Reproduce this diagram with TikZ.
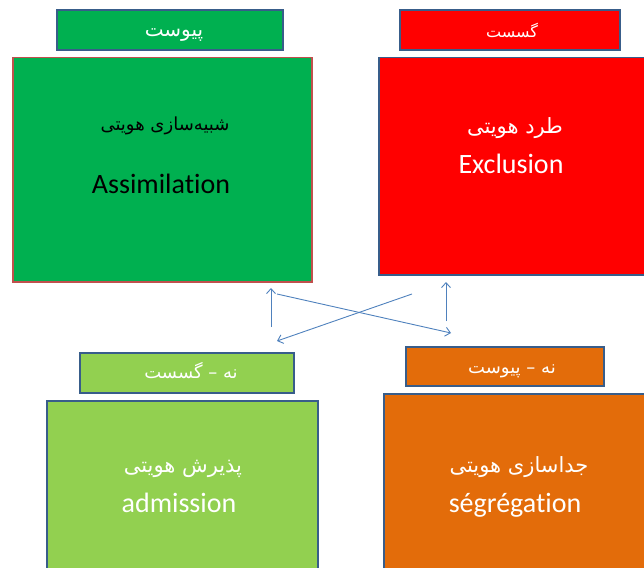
\documentclass[tikz,border=0pt]{standalone}
\usepackage{fontspec}
\setmainfont{Carlito}[Ligatures=NoCommon]
\newfontfamily\farsi[Script=Arabic]{DejaVu Sans}
\TeXXeTstate=1
\usetikzlibrary{arrows.meta}
\definecolor{boxgreen}{RGB}{0,176,80}
\definecolor{boxred}{RGB}{255,0,0}
\definecolor{boxlime}{RGB}{146,208,80}
\definecolor{boxorange}{RGB}{227,108,10}
\definecolor{edgeblue}{RGB}{56,93,138}
\definecolor{edgered}{RGB}{192,80,77}
\definecolor{arrowblue}{RGB}{79,129,189}
\tikzset{
  header/.style={draw=edgeblue,line width=1.5pt,inner sep=0pt},
  headtext/.style={anchor=base,inner sep=0pt,text=white,font=\farsi\fontsize{18}{22}\selectfont},
  bigbox/.style={draw=edgeblue,line width=1.5pt,anchor=north west,inner sep=0pt},
  farsitext/.style={anchor=base,inner sep=0pt,font=\farsi\fontsize{21}{25}\selectfont},
  latintext/.style={anchor=base,inner sep=0pt,font=\fontsize{28}{33}\selectfont},
  link/.style={-{Straight Barb[length=5pt,width=9pt]},draw=arrowblue,line width=0.9pt}
}

\begin{document}
\begin{tikzpicture}[x=1pt,y=-1pt]

    % -- Fix the page size --
    \useasboundingbox (0,0) rectangle (644,567);
    \clip (0,0) rectangle (644,567);

    % -- Big boxes (top row) --
    \node[bigbox,fill=boxgreen,draw=edgered,minimum width=299pt,minimum height=224pt] (assim) at (12,57) {};
    \node[bigbox,fill=boxred,minimum width=270pt,minimum height=217pt] (excl) at (378,57) {};

    % -- Big boxes (bottom row, cut by the page edge) --
    \node[bigbox,fill=boxlime,minimum width=271pt,minimum height=180pt] (admis) at (46,400) {};
    \node[bigbox,fill=boxorange,minimum width=265pt,minimum height=185pt] (segre) at (383,393) {};

    % -- Header boxes --
    \node[header,fill=boxgreen,minimum width=226pt,minimum height=40pt] (peyvast) at (170,30) {};
    \node[header,fill=boxred,minimum width=220pt,minimum height=40pt] (gosast) at (510,30) {};
    \node[header,fill=boxlime,minimum width=214pt,minimum height=40pt] (nagosast) at (187,373) {};
    \node[header,fill=boxorange,minimum width=198pt,minimum height=39pt] (napeyvast) at (505,366.5) {};

    % -- Header labels (placed on their base line) --
    \node[headtext,font=\farsi\fontsize{20}{24}\selectfont] (peyvastlbl) at (174,37) {\beginR پیوست\endR};
    \node[headtext,font=\farsi\fontsize{16}{20}\selectfont] (gosastlbl) at (512,38) {\beginR گسست\endR};
    \node[headtext] (nagosastlbl) at (191,378) {\beginR نه – گسست\endR};
    \node[headtext] (napeyvastlbl) at (512,373) {\beginR نه – پیوست\endR};

    % -- Labels inside the boxes --
    \node[farsitext,font=\farsi\fontsize{18}{22}\selectfont] (assimfa) at (165,130) {\beginR شبیه‌سازی هویتی\endR};
    \node[latintext] (assimen) at (161,193) {Assimilation};
    \node[farsitext,text=white] (exclfa) at (515,133) {\beginR طرد هویتی\endR};
    \node[latintext,text=white] (exclen) at (511,173) {Exclusion};
    \node[farsitext,text=white] (admisfa) at (183,472) {\beginR پذیرش هویتی\endR};
    \node[latintext,text=white] (admisen) at (179,512) {admission};
    \node[farsitext,text=white] (segrefa) at (519,472) {\beginR جداسازی هویتی\endR};
    \node[latintext,text=white] (segreen) at (515,512) {ségrégation};

    % -- Arrow end points between the rows --
    \coordinate (upAfrom) at (271,327);
    \coordinate (upAto)   at (271,288);
    \coordinate (upBfrom) at (446,321);
    \coordinate (upBto)   at (446,282);
    \coordinate (crAfrom) at (277,294);
    \coordinate (crAto)   at (451,333);
    \coordinate (crBfrom) at (412,294);
    \coordinate (crBto)   at (277,341);

    % -- Arrows --
    \draw[link] (upAfrom) -- (upAto);
    \draw[link] (upBfrom) -- (upBto);
    \draw[link] (crAfrom) -- (crAto);
    \draw[link] (crBfrom) -- (crBto);

\end{tikzpicture}
\end{document}
